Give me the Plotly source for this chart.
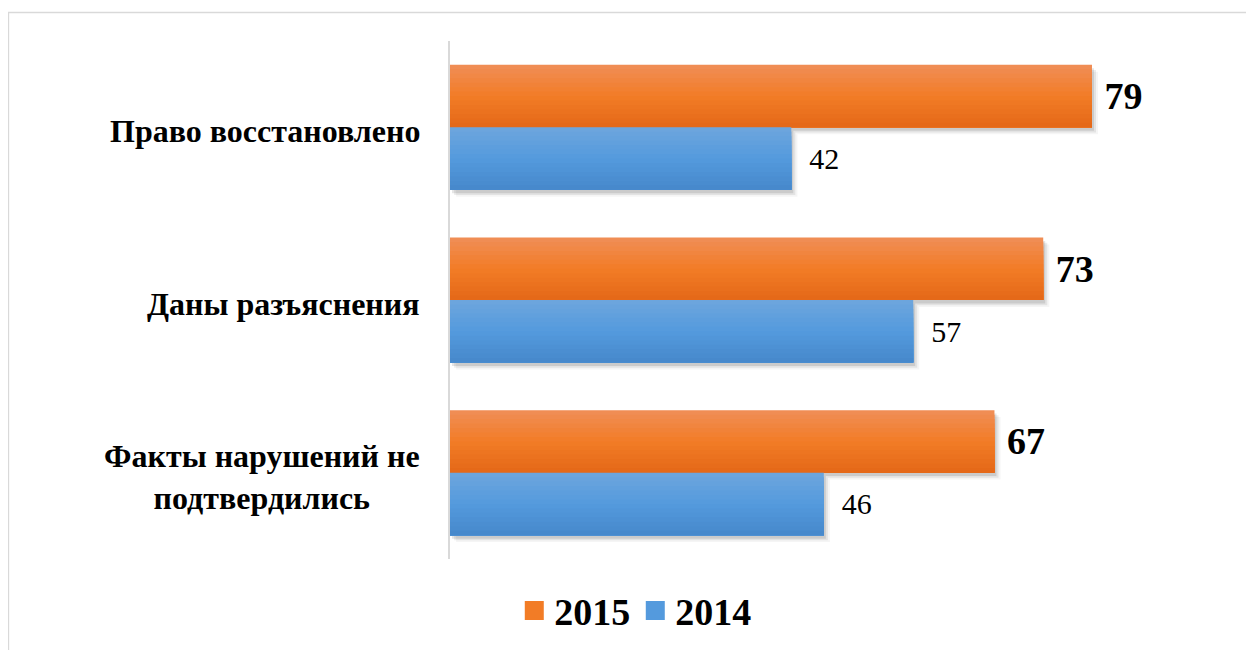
import plotly.graph_objects as go

categories = ["Право восстановлено", "Даны разъяснения", "Факты нарушений не<br>подтвердились"]
values_2015 = [79, 73, 67]
values_2014 = [42, 57, 46]
series_names = ["2015", "2014"]

FONT = "Liberation Serif, Times New Roman, serif"
orange_stops = [(240, 142, 88), (242, 124, 38), (228, 104, 24)]
blue_stops = [(110, 166, 221), (84, 154, 221), (70, 136, 203)]


def interp(stops, t):
    if t <= 0.5:
        a, b, u = stops[0], stops[1], t / 0.5
    else:
        a, b, u = stops[1], stops[2], (t - 0.5) / 0.5
    return "rgb(%d,%d,%d)" % tuple(round(a[i] + (b[i] - a[i]) * u) for i in range(3))


ypos = list(range(len(categories)))
half = 0.362
N = 14
fig = go.Figure()

# soft shadows
for vals, off in [(values_2015, -half), (values_2014, 0.0)]:
    for k, alpha in enumerate([0.10, 0.07, 0.04]):
        fig.add_trace(go.Bar(
            y=ypos, x=vals, orientation="h", base=0.25 + 0.25 * k,
            offset=off + 0.02 + 0.01 * k, width=half,
            marker=dict(color="rgba(0,0,0,%.2f)" % alpha, line=dict(width=0)),
            showlegend=False, hoverinfo="skip"))

for vals, off, stops, name, fsize, bold, pad in [
    (values_2015, -half, orange_stops, series_names[0], 38, True, "\u00a0"),
    (values_2014, 0.0, blue_stops, series_names[1], 30, False, "\u00a0\u00a0"),
]:
    w = half / N
    for k in range(N):
        # each band runs from its top edge to the bottom of the bar (layered gradient)
        fig.add_trace(go.Bar(
            y=ypos, x=vals, orientation="h",
            offset=off + k * w, width=half - k * w,
            marker=dict(color=interp(stops, (k + 0.5) / N), line=dict(width=0)),
            name=name, legendgroup=name, showlegend=False, hoverinfo="skip"))
    # label carrier
    fig.add_trace(go.Bar(
        y=ypos, x=vals, orientation="h", offset=off, width=half,
        marker=dict(color="rgba(0,0,0,0)", line=dict(width=0)),
        text=vals, texttemplate=pad + "%{x}", textposition="outside",
        constraintext="none", cliponaxis=False,
        outsidetextfont=dict(family=FONT, size=fsize, color="black",
                             weight="bold" if bold else "normal"),
        name=name, legendgroup=name, showlegend=False, hoverinfo="skip"))
    # legend entry
    fig.add_trace(go.Scatter(
        x=[None], y=[None], mode="markers",
        marker=dict(symbol="square", size=19, color=interp(stops, 0.5),
                    line=dict(width=3, color=interp(stops, 0.5))),
        name=name, legendgroup=name, showlegend=True))

for i, c in enumerate(categories):
    fig.add_annotation(
        x=0, xref="paper", y=ypos[i], yref="y", text="<b>%s</b>" % c,
        xanchor="right", xshift=-28, yshift=-4, align="center", showarrow=False,
        font=dict(family=FONT, size=32, color="black"))

fig.add_shape(type="rect", xref="paper", yref="paper",
              x0=-0.572, x1=1.06, y0=-0.2, y1=1.055,
              line=dict(color="#D9D9D9", width=1.5), layer="below")

fig.update_layout(
    width=1254, height=650,
    margin=dict(l=442, r=40, t=33, b=99),
    paper_bgcolor="white", plot_bgcolor="white",
    barmode="overlay",
    xaxis=dict(range=[0, 95], visible=False, showgrid=False, zeroline=False),
    yaxis=dict(range=[len(categories) - 0.5, -0.5], showticklabels=False,
               showgrid=False, zeroline=False, showline=True,
               linecolor="#D9D9D9", linewidth=2, ticks=""),
    legend=dict(orientation="h", x=0.24, xanchor="center", y=-0.1,
                yanchor="middle", font=dict(family=FONT, size=38, color="black",
                                            weight="bold"),
                itemwidth=30, itemsizing="trace", bgcolor="rgba(0,0,0,0)"),
    showlegend=True,
)

fig.write_html("out.html")
